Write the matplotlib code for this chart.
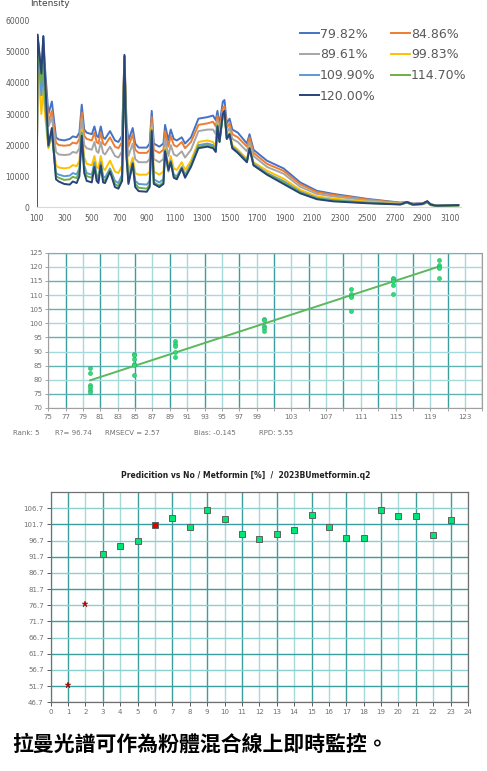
import matplotlib
matplotlib.use("Agg")
import numpy as np
from matplotlib import pyplot as plt

# ---------------- data: Raman spectra ----------------
wavenumber = [100, 106, 134, 148, 160, 185, 210, 240, 260, 300, 340, 362, 390, 410, 427, 445, 463, 500,
              519, 535, 548, 565, 582, 596, 632, 668, 693, 720, 737, 752, 766, 797, 815, 840, 899, 920,
              935, 950, 990, 1020, 1032, 1056, 1073, 1095, 1117, 1153, 1177, 1220, 1274, 1340, 1380, 1400,
              1412, 1427, 1451, 1463, 1480, 1500, 1520, 1560, 1626, 1645, 1674, 1771, 1892, 2013, 2134,
              2255, 2500, 2740, 2787, 2830, 2900, 2935, 2960, 3000, 3160]

s_7982 = [0, 55500, 42000, 55000, 45000, 30000, 34000, 22500, 21800, 21500, 22000, 22800, 22500, 24000, 33000,
          25000, 24000, 23500, 26000, 23000, 22500, 26000, 22500, 22000, 24500, 21500, 21000, 23000, 48500,
          27000, 21500, 25500, 20500, 19200, 19200, 20500, 31000, 20500, 19500, 20500, 26500, 21500, 25000,
          22000, 21500, 22500, 20500, 22500, 28500, 29000, 29500, 28000, 31000, 26500, 34000, 34500, 27000,
          28500, 25000, 24000, 20500, 23500, 18500, 15000, 12500, 8000, 5300, 4300, 2700, 1500, 1700, 1200,
          1300, 1800, 1000, 600, 700]
s_8486 = [0, 55000, 41000, 52000, 42000, 27500, 31000, 20800, 20000, 19800, 20000, 20800, 20500, 22000, 30500,
          23000, 22000, 21500, 24000, 21000, 20500, 24000, 20500, 20000, 22500, 19500, 19000, 21000, 48500,
          25000, 19500, 23500, 18500, 17500, 17500, 18500, 29000, 18500, 17500, 18500, 24500, 19500, 23000,
          20000, 19500, 21000, 19000, 21000, 26500, 27000, 27500, 26000, 29500, 25000, 32000, 32500, 25500,
          27000, 23500, 22500, 19500, 22500, 17500, 14000, 11700, 7400, 4900, 4000, 2500, 1400, 1700, 1100,
          1200, 1700, 900, 550, 650]
s_8961 = [0, 54000, 40000, 50000, 40000, 26000, 29000, 17800, 17000, 16800, 17000, 17800, 17500, 19000, 28500,
          20000, 19000, 18500, 21000, 18000, 17500, 21000, 17500, 17000, 19500, 16500, 16000, 18000, 48500,
          23000, 16500, 20500, 15500, 14500, 14500, 15500, 27000, 15500, 14500, 15500, 22000, 16500, 20000,
          17000, 16500, 18000, 16000, 18500, 24500, 25000, 25000, 23500, 28000, 23000, 30500, 31000, 24000,
          25500, 22000, 21000, 18000, 21000, 16500, 13000, 10800, 6600, 4300, 3500, 2200, 1300, 1600, 1000,
          1100, 1600, 850, 500, 650]
s_9983 = [0, 48000, 30000, 38000, 30000, 19000, 23000, 13500, 12800, 12500, 12800, 13600, 13200, 15000, 25000,
          16000, 14000, 13500, 16500, 13000, 12500, 16500, 12500, 12000, 15000, 11500, 11000, 13500, 48500,
          20000, 11500, 16000, 11000, 10500, 10500, 11500, 25500, 11500, 10500, 11500, 19000, 13000, 16500,
          12500, 12000, 14500, 12000, 15000, 21000, 21500, 21000, 19500, 27000, 22000, 29500, 30000, 22500,
          24000, 20000, 18500, 15500, 19500, 14500, 11800, 9200, 5600, 3500, 2800, 1800, 1100, 1500, 900,
          1000, 1500, 700, 400, 600]
s_10990 = [0, 53000, 36000, 44000, 34000, 19500, 24000, 11000, 10500, 10000, 10200, 11000, 10600, 12500, 24000,
           13500, 11000, 10500, 14500, 10500, 9500, 14500, 10000, 9500, 12500, 8500, 7800, 10500, 48500,
           18000, 9000, 14500, 8500, 7500, 7300, 8500, 25000, 9000, 8000, 9000, 18500, 12000, 15000,
           10500, 10000, 13000, 10500, 14000, 20000, 20500, 20000, 18500, 26500, 21500, 29500, 30500, 22000,
           23500, 19500, 18000, 15000, 19000, 14000, 11000, 8400, 5000, 3000, 2300, 1500, 1000, 1500, 850,
           1000, 1600, 750, 450, 600]
s_11470 = [0, 53000, 40000, 48000, 36000, 19500, 24500, 10000, 9500, 8800, 9000, 9800, 9400, 11500, 23500,
           12500, 10000, 9500, 13500, 9500, 8500, 14000, 9000, 8500, 12000, 7500, 6800, 9500, 48500,
           17000, 8000, 14000, 7500, 6300, 6000, 7200, 24500, 8000, 7000, 8000, 18000, 11500, 14500,
           10000, 9500, 12500, 10000, 13500, 19500, 20000, 19500, 18000, 26000, 21000, 29500, 30500, 22000,
           23500, 19000, 17500, 14500, 19000, 13500, 10800, 8000, 4800, 2800, 2100, 1400, 950, 1500, 800,
           1000, 1600, 750, 450, 600]
s_12000 = [0, 55500, 43000, 55000, 42000, 20000, 25500, 9000, 8300, 7500, 7300, 8300, 7800, 10000, 23000,
           11000, 8500, 8000, 13000, 8500, 7800, 13500, 8000, 7800, 11500, 6500, 6000, 8500, 49000,
           16000, 7500, 14000, 6500, 5200, 5000, 6500, 24500, 7500, 6500, 7500, 18000, 12000, 14500,
           9500, 9000, 12500, 9500, 13000, 19000, 19500, 19000, 17800, 26000, 21000, 30000, 31000, 22000,
           23500, 19000, 17500, 14500, 19000, 13500, 10500, 7500, 4500, 2600, 1900, 1300, 900, 1700, 900,
           1100, 2000, 900, 500, 700]

series_labels = ["79.82%", "84.86%", "89.61%", "99.83%", "109.90%", "114.70%", "120.00%"]
series_values = [s_7982, s_8486, s_8961, s_9983, s_10990, s_11470, s_12000]
series_colors = ["#4472C4", "#ED7D31", "#A5A5A5", "#FFC000", "#5B9BD5", "#70AD47", "#264478"]

# ---------------- data: PLS cross-validation ----------------
ref_conc = [79.82] * 6 + [84.86] * 6 + [89.61] * 5 + [99.83] * 5 + [109.90] * 5 + [114.70] * 5 + [120.00] * 5
pred_conc = [84.1, 82.4, 78.0, 77.3, 76.2, 75.5,
             89.2, 88.8, 87.3, 85.5, 85.1, 81.8,
             93.6, 92.7, 91.8, 90.0, 88.0,
             101.6, 101.0, 99.1, 98.3, 97.3,
             112.2, 110.4, 109.8, 109.2, 104.4,
             116.2, 115.6, 115.0, 113.6, 110.4,
             122.4, 120.6, 120.1, 119.5, 115.9]
fit_x = [79.82, 120.00]
fit_y = [79.8, 120.1]
stats_text = ["Rank: 5", "R?= 96.74", "RMSECV = 2.57", "Bias: -0.145", "RPD: 5.55"]

# ---------------- data: prediction vs sample no ----------------
sample_no = list(range(1, 24))
prediction = [52.0, 77.0, 92.7, 95.1, 96.5, 101.4, 103.6, 100.8, 106.3, 103.4, 98.6, 97.3,
              98.6, 99.9, 104.6, 100.9, 97.6, 97.5, 106.2, 104.2, 104.3, 98.4, 103.1]
point_kind = ["star", "star", "ok", "ok", "ok", "warn"] + ["ok"] * 17
pred_yticks = [46.7, 51.7, 56.7, 61.7, 66.7, 71.7, 76.7, 81.7, 86.7, 91.7, 96.7, 101.7, 106.7]

W, H = 487, 771


def box(left, top, right, bottom):
    return [left / W, 1 - bottom / H, (right - left) / W, (bottom - top) / H]


fig = plt.figure(figsize=(W / 100, H / 100), dpi=100)
fig.patch.set_facecolor("white")

# ================= panel 1: spectra =================
ax1 = fig.add_axes(box(36.7, 20.7, 461, 207.3))
for lab, vals, col in zip(series_labels, series_values, series_colors):
    ax1.plot(wavenumber, vals, color=col, lw=1.4, label=lab, solid_joinstyle="round")
ax1.set_xlim(100, 3180)
ax1.set_ylim(0, 60000)
ax1.set_xticks(np.arange(100, 3101, 200))
ax1.set_yticks(np.arange(0, 60001, 10000))
ax1.tick_params(axis="both", length=0, labelsize=5.5, labelcolor="#595959", pad=5)
for s in ["top", "right", "left"]:
    ax1.spines[s].set_visible(False)
ax1.spines["bottom"].set_color("#D9D9D9")
handles, labels = ax1.get_legend_handles_labels()
order = [0, 2, 4, 6, 1, 3, 5]
ax1.legend([handles[i] for i in order], [labels[i] for i in order], ncol=2, frameon=False,
           loc="upper left", bbox_to_anchor=(0.6, 1.01), fontsize=9, labelcolor="#595959",
           handlelength=1.5, handletextpad=0.1, columnspacing=1.2, labelspacing=0.62,
           borderaxespad=0.3)
fig.text(30 / W, 1 - 3 / H, "Intensity", fontsize=6.5, color="#404040", va="center")

# ================= panel 2: predicted vs reference =================
ax2 = fig.add_axes(box(48.3, 252.7, 482.4, 408))
x2_ticks = np.arange(75, 126, 2)
y2_ticks = np.arange(70, 126, 5)
for i, xv in enumerate(x2_ticks):
    ax2.axvline(xv, color="#3A9E9E" if i % 2 else "#A6D9D9", lw=1.0, zorder=0)
for i, yv in enumerate(y2_ticks):
    ax2.axhline(yv, color="#5FB3B3" if i % 2 else "#A6D9D9", lw=1.0, zorder=0)
ax2.plot(fit_x, fit_y, color="#5CB85C", lw=1.4, zorder=2)
ax2.scatter(ref_conc, pred_conc, marker="o", s=9, color="#2EDB7A", edgecolors="#1FA85A",
            linewidths=0.3, zorder=3)
ax2.set_xlim(75, 125)
ax2.set_ylim(70, 125)
ax2.set_xticks(x2_ticks)
ax2.set_xticklabels([str(v) if (v <= 99 or (v - 103) % 4 == 0) else "" for v in x2_ticks])
ax2.set_yticks(y2_ticks)
ax2.tick_params(axis="both", length=2, width=0.5, color="#808080", labelsize=5,
                labelcolor="#707070", pad=2)
for s in ax2.spines.values():
    s.set_color("#A0A0A0")
    s.set_linewidth(0.8)
stats_x = [13, 55, 105, 194, 259]
for tx, st in zip(stats_x, stats_text):
    fig.text(tx / W, 1 - 433 / H, st, fontsize=5, color="#707070", va="center")

# ================= panel 3: prediction vs sample number =================
ax3 = fig.add_axes(box(50.7, 492.3, 468, 702.3))
x3_ticks = np.arange(0, 25, 1)
for i, xv in enumerate(x3_ticks):
    ax3.axvline(xv, color="#3A9E9E" if i % 2 else "#A6D9D9", lw=1.0, zorder=0)
for i, yv in enumerate(pred_yticks):
    ax3.axhline(yv, color="#3A9E9E" if i % 2 else "#8CCFCF", lw=1.0, zorder=0)
for xn, yp, kind in zip(sample_no, prediction, point_kind):
    if kind == "star":
        ax3.plot(xn, yp, marker="*", ms=5, color="#CC0000", mec="#800000", mew=0.3, zorder=3)
    elif kind == "warn":
        ax3.plot(xn, yp, marker="s", ms=4.8, color="#E00000", mec="#606060", mew=0.7, zorder=3)
    else:
        ax3.plot(xn, yp, marker="s", ms=4.8, color="#00E676", mec="#606060", mew=0.7, zorder=3)
ax3.set_xlim(0, 24)
ax3.set_ylim(46.7, 111.65)
ax3.set_xticks(x3_ticks)
ax3.set_yticks(pred_yticks)
ax3.set_yticklabels([f"{v:.1f}" for v in pred_yticks])
ax3.tick_params(axis="x", length=3, width=0.6, color="#404040", labelsize=5,
                labelcolor="#707070", pad=2)
ax3.tick_params(axis="y", length=3, width=0.6, color="#404040", labelsize=5,
                labelcolor="#707070", pad=2)
for s in ax3.spines.values():
    s.set_color("#707070")
    s.set_linewidth(0.9)
fig.text(246 / W, 1 - 475 / H, "Predicition vs No / Metformin [%]  /  2023BUmetformin.q2",
         fontsize=5.5, fontweight="bold", color="#202020", ha="center", va="center")

# ================= caption =================
fig.text(12 / W, 1 - 744 / H, "拉曼光譜可作為粉體混合線上即時監控。", fontsize=15, fontweight="bold",
         family=["Noto Sans CJK TC", "DejaVu Sans"], color="black", va="center")

plt.savefig("out.png", dpi=100, facecolor="white")
